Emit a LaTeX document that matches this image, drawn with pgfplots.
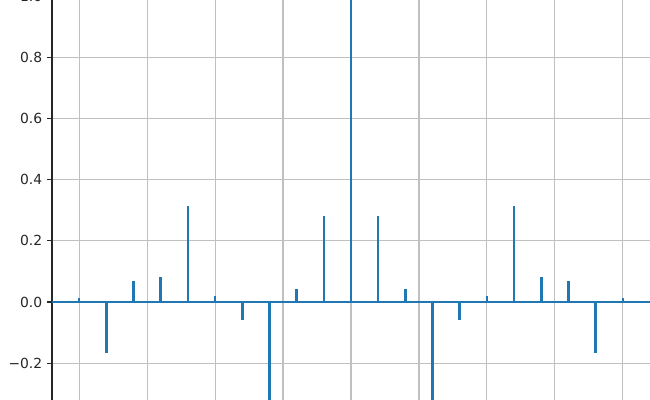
\documentclass[border=0pt]{standalone}
\usepackage{fontspec}
\setmainfont{DejaVu Sans}
\usepackage{pgfplots}
\pgfplotsset{compat=1.18}
\definecolor{mplblue}{HTML}{1F77B4}
\definecolor{gridgray}{HTML}{B0B0B0}

\begin{document}
\begin{tikzpicture}
% the reference is a crop of a bigger figure: keep only that window
\useasboundingbox (0,0) rectangle (468pt,288pt);
\clip (0,0) rectangle (468pt,288pt);
\begin{axis}[
    at={(37.44pt,-10.94pt)}, anchor=south west,
    scale only axis,
    width=430.56pt, height=317.2pt,
    xmin=-11, xmax=11,
    ymin=-0.37, ymax=1.07,
    axis x line*=bottom,
    axis y line*=left,
    axis line style={line width=0.8pt, black!85},
    xtick={-10,-7.5,-5,-2.5,0,2.5,5,7.5,10},
    xticklabels={},
    ytick={-0.2,0,0.2,0.4,0.6,0.8,1.0},
    yticklabels={−0.2,0.0,0.2,0.4,0.6,0.8,1.0},
    yticklabel style={font=\fontsize{10}{12}\selectfont, text=black!85},
    tick align=outside,
    major tick length=3.5pt,
    tick style={line width=0.8pt, black!85},
    grid=major,
    major grid style={gridgray!80, line width=0.8pt},
]
\addplot[ycomb, mplblue, line width=1.8pt, no marks] coordinates {
    (-10,0.014) (-9,-0.168) (-8,0.069) (-7,0.082) (-6,0.314)
    (-5,0.018) (-4,-0.058) (-3,-0.33) (-2,0.041) (-1,0.282)
    (0,1.0)
    (1,0.282) (2,0.041) (3,-0.33) (4,-0.058) (5,0.018)
    (6,0.314) (7,0.082) (8,0.069) (9,-0.168) (10,0.014)
};
\addplot[mplblue, line width=1.8pt, no marks] coordinates {(-11,0) (11,0)};
\end{axis}
\end{tikzpicture}
\end{document}
